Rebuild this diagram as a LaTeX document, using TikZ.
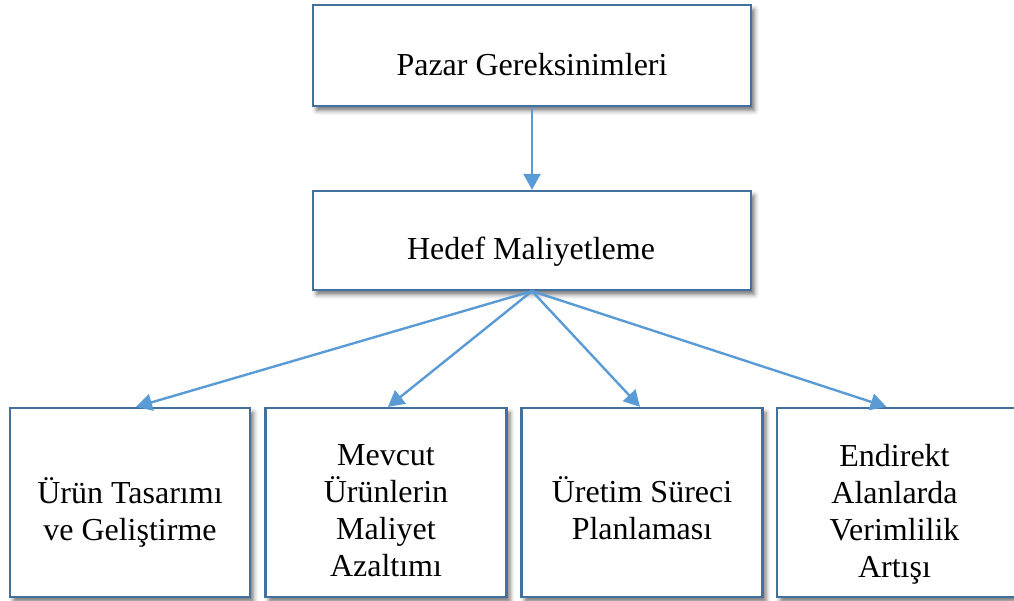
\documentclass[tikz,border=0pt]{standalone}
\usepackage{fontspec}
\setmainfont{Liberation Serif}
\usetikzlibrary{arrows.meta,shadows.blur}
\definecolor{boxline}{HTML}{41719C}
\definecolor{arrowblue}{HTML}{5B9BD5}
\tikzset{
  stagebox/.style={draw=boxline, line width=2.2pt, fill=white, inner sep=0pt,
    blur shadow={shadow xshift=3.5pt, shadow yshift=-4.5pt, shadow blur radius=4.5pt, shadow opacity=55}},
  caption/.style={font=\fontsize{32}{37}\selectfont, align=center, text=black, inner sep=0pt},
  flow/.style={draw=arrowblue, line width=2.4pt,
    -{Triangle[length=16pt,width=17pt,fill=arrowblue]}}
}
\begin{document}
\begin{tikzpicture}[x=1pt,y=1pt]
\useasboundingbox (0,0) rectangle (1014,-601);
% boxes (coordinates: x to the right, y downwards as negative values)
\node[stagebox, minimum width=438pt, minimum height=101pt] (pazar) at (532,-55.5) {};
\node[stagebox, minimum width=438pt, minimum height=99pt]  (hedef) at (532,-240.5) {};
\node[stagebox, minimum width=240pt, minimum height=189pt] (urun)  at (130,-502.5) {};
\node[stagebox, minimum width=241pt, minimum height=189pt] (mevcut) at (386,-502.5) {};
\node[stagebox, minimum width=241pt, minimum height=189pt] (uretim) at (642,-502.5) {};
\node[stagebox, minimum width=241pt, minimum height=189pt] (endirekt) at (897.5,-502.5) {};
% texts
\node[caption, anchor=base] (tpazar) at (532,-76) {Pazar Gereksinimleri};
\node[caption, anchor=base] (thedef) at (531,-260) {Hedef Maliyetleme};
\node[caption] (turun) at ([yshift=-10pt]urun.center) {Ürün Tasarımı\\ve Geliştirme};
\node[caption] (tmevcut) at ([yshift=-8.5pt]mevcut.center) {Mevcut\\Ürünlerin\\Maliyet\\Azaltımı};
\node[caption] (turetim) at ([yshift=-5.5pt]uretim.center) {Üretim Süreci\\Planlaması};
\node[caption] (tendirekt) at ([xshift=-3pt,yshift=-12pt]endirekt.center) {Endirekt\\Alanlarda\\Verimlilik\\Artışı};
% connectors
\draw[flow] (pazar.south) -- (hedef.north);
\draw[flow] (hedef.south) -- ([xshift=6pt]urun.north);
\draw[flow] (hedef.south) -- ([xshift=2pt]mevcut.north);
\draw[flow] (hedef.south) -- ([xshift=-2pt]uretim.north);
\draw[flow] (hedef.south) -- ([xshift=-11pt]endirekt.north);
\end{tikzpicture}
\end{document}
